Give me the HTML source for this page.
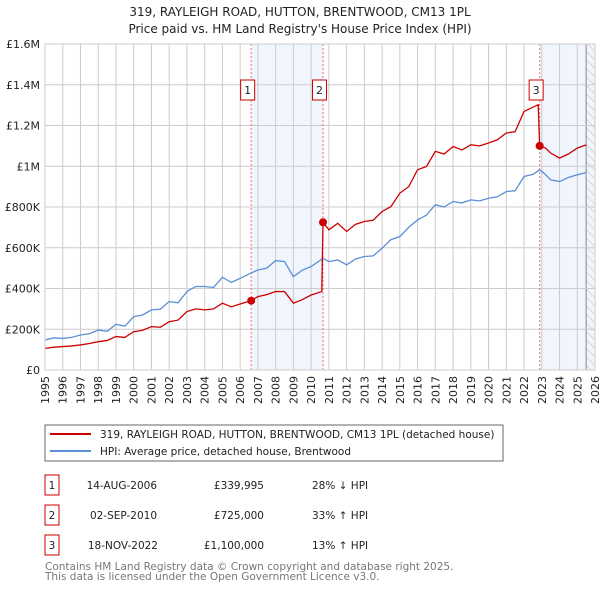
<!DOCTYPE html>
<html><head><meta charset="utf-8"><style>
body{margin:0;background:#fff;}
svg text{font-family:"DejaVu Sans","Liberation Sans",sans-serif;}
</style></head><body>
<svg id="c" width="600" height="590" xmlns="http://www.w3.org/2000/svg">
<text x="300" y="16" text-anchor="middle" font-size="12" fill="#222">319, RAYLEIGH ROAD, HUTTON, BRENTWOOD, CM13 1PL</text>
<text x="300" y="33" text-anchor="middle" font-size="12" fill="#222">Price paid vs. HM Land Registry's House Price Index (HPI)</text>
<g id="plot"></g>
<rect x="45" y="425" width="458" height="36" fill="#fff" stroke="#666"/>
<line x1="50" y1="434" x2="91" y2="434" stroke="#cc0000" stroke-width="2"/>
<text x="100" y="438" font-size="10.5" fill="#222">319, RAYLEIGH ROAD, HUTTON, BRENTWOOD, CM13 1PL (detached house)</text>
<line x1="50" y1="451" x2="91" y2="451" stroke="#5b8fd6" stroke-width="2"/>
<text x="100" y="455" font-size="10.5" fill="#222">HPI: Average price, detached house, Brentwood</text>
<g font-size="10.5" fill="#222">
<rect x="45" y="475" width="14" height="20" fill="#fff" stroke="#cc0000"/><text x="52" y="489" text-anchor="middle">1</text>
<text x="157" y="489" text-anchor="end">14-AUG-2006</text><text x="264" y="489" text-anchor="end">£339,995</text><text x="312" y="489">28% ↓ HPI</text>
<rect x="45" y="505" width="14" height="20" fill="#fff" stroke="#cc0000"/><text x="52" y="519" text-anchor="middle">2</text>
<text x="157" y="519" text-anchor="end">02-SEP-2010</text><text x="264" y="519" text-anchor="end">£725,000</text><text x="312" y="519">33% ↑ HPI</text>
<rect x="45" y="535" width="14" height="20" fill="#fff" stroke="#cc0000"/><text x="52" y="549" text-anchor="middle">3</text>
<text x="158" y="549" text-anchor="end">18-NOV-2022</text><text x="264" y="549" text-anchor="end">£1,100,000</text><text x="312" y="549">13% ↑ HPI</text>
</g>
<text x="45" y="570" font-size="10.5" fill="#777">Contains HM Land Registry data © Crown copyright and database right 2025.</text>
<text x="45" y="580" font-size="10.5" fill="#777">This data is licensed under the Open Government Licence v3.0.</text>
</svg>
<script>
const hpiYears=[1995,1995.5,1996,1996.5,1997,1997.5,1998,1998.5,1999,1999.5,2000,2000.5,2001,2001.5,2002,2002.5,2003,2003.5,2004,2004.5,2005,2005.5,2006,2006.6,2007,2007.5,2008,2008.5,2009,2009.5,2010,2010.67,2011,2011.5,2012,2012.5,2013,2013.5,2014,2014.5,2015,2015.5,2016,2016.5,2017,2017.5,2018,2018.5,2019,2019.5,2020,2020.5,2021,2021.5,2022,2022.5,2022.88,2023.2,2023.5,2024,2024.5,2025,2025.5];
const hpiValues=[147,158,155,160,172,178,196,190,224,215,262,270,295,298,336,330,385,410,410,405,455,430,450,475,491,500,537,532,458,490,508,548,532,540,516,545,557,560,598,640,655,700,737,760,811,800,827,820,835,830,843,850,876,880,950,960,983,960,933,925,945,958,969];
const redYears=[1995,1995.5,1996,1996.5,1997,1997.5,1998,1998.5,1999,1999.5,2000,2000.5,2001,2001.5,2002,2002.5,2003,2003.5,2004,2004.5,2005,2005.5,2006,2006.6,2007,2007.5,2008,2008.5,2009,2009.5,2010,2010.6,2010.67,2011,2011.5,2012,2012.5,2013,2013.5,2014,2014.5,2015,2015.5,2016,2016.5,2017,2017.5,2018,2018.5,2019,2019.5,2020,2020.5,2021,2021.5,2022,2022.5,2022.8,2022.88,2023.2,2023.5,2024,2024.5,2025,2025.5];
const redValues=[106,112,115,118,123,130,139,145,164,160,188,195,213,210,237,245,287,300,295,300,328,310,324,340,360,370,385,385,328,345,368,385,725,688,720,680,715,729,735,778,802,868,900,983,999,1073,1060,1097,1080,1105,1100,1114,1130,1163,1170,1269,1290,1302,1100,1090,1065,1040,1060,1089,1105];
const sales=[[2006.62,340],[2010.67,725],[2022.88,1100]];
const yTicks=[0,200,400,600,800,1000,1200,1400,1600];
const yLabels=["£0","£200K","£400K","£600K","£800K","£1M","£1.2M","£1.4M","£1.6M"];
const NS="http://www.w3.org/2000/svg";
const X0=45,X1=595,Y0=370,Y1=44;
const xs=y=>X0+(y-1995)*(X1-X0)/31;
const ys=v=>Y0-v*(Y0-Y1)/1600;
const g=document.getElementById('plot');
function mk(t,a){const e=document.createElementNS(NS,t);for(const k in a)e.setAttribute(k,a[k]);g.appendChild(e);return e;}
let e;
e=mk('rect',{x:xs(sales[0][0]),y:Y1,width:xs(sales[1][0])-xs(sales[0][0]),height:Y0-Y1,fill:'#eef3fc',opacity:0.8});


e=mk('rect',{x:xs(sales[2][0]),y:Y1,width:xs(2026)-xs(sales[2][0]),height:Y0-Y1,fill:'#eef3fc',opacity:0.8});


const defs=document.createElementNS(NS,'defs');defs.innerHTML='<pattern id="h" width="6" height="6" patternUnits="userSpaceOnUse" patternTransform="rotate(-45)"><line x1="0" y1="0" x2="0" y2="6" stroke="#bbb" stroke-width="1"/></pattern>';g.appendChild(defs);
e=mk('rect',{x:xs(2025.5),y:Y1,width:xs(2026)-xs(2025.5),height:Y0-Y1,fill:'url(#h)'});


mk('line',{x1:xs(2025.5),y1:Y1,x2:xs(2025.5),y2:Y0,stroke:'#888'});
for(let yr=1995;yr<=2026;yr++){
 e=mk('line',{x1:xs(yr),y1:Y1,x2:xs(yr),y2:Y0,stroke:'#ccc'});
 
 
 e=mk('text',{x:0,y:0,'font-size':11,fill:'#222','text-anchor':'end',transform:`translate(${xs(yr)+4},${Y0+6}) rotate(-90)`});
 e.textContent=yr;
 
 
}
yTicks.forEach((v,i)=>{
 e=mk('line',{x1:X0,y1:ys(v),x2:X1,y2:ys(v),stroke:'#ccc'});
 
 
 e=mk('text',{x:X0-5,y:ys(v)+4,'font-size':11,fill:'#222','text-anchor':'end'});
 e.textContent=yLabels[i];
 
 
});
sales.forEach((s,i)=>{
 e=mk('line',{x1:xs(s[0]),y1:Y1,x2:xs(s[0]),y2:Y0,stroke:'#f07070','stroke-dasharray':'2,2'});
 
 
 e=mk('rect',{x:xs(s[0])-10.5,y:80,width:14,height:20,fill:'#fff',stroke:'#cc0000'});
 
 
 e=mk('text',{x:xs(s[0])-3.5,y:94,'font-size':11,fill:'#222','text-anchor':'middle'});
 e.textContent=i+1;
 
 
});
e=mk('polyline',{points:hpiYears.map((y,i)=>xs(y)+','+ys(hpiValues[i])).join(' '),fill:'none',stroke:'#5b8fd6','stroke-width':1.3});


e=mk('polyline',{points:redYears.map((y,i)=>xs(y)+','+ys(redValues[i])).join(' '),fill:'none',stroke:'#cc0000','stroke-width':1.3});


sales.forEach(s=>{
 e=mk('circle',{cx:xs(s[0]),cy:ys(s[1]),r:4,fill:'#cc0000'});
 
 
});
e=mk('rect',{x:X0,y:Y1,width:X1-X0,height:Y0-Y1,fill:'none',stroke:'#ccc'});


</script>
</body></html>
